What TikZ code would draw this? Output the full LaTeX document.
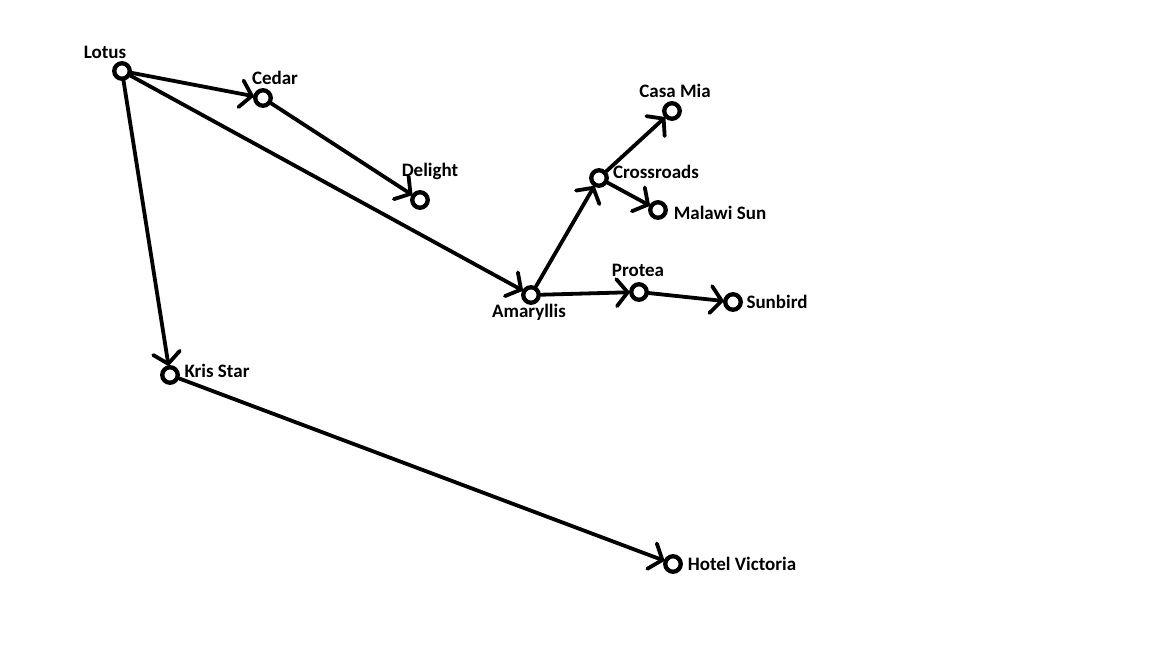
\documentclass[tikz,border=0pt]{standalone}
\usepackage{fontspec}
\setmainfont{Carlito}
\usetikzlibrary{arrows.meta}
\tikzset{
  vtx/.style={circle,draw=black,line width=3.8pt,minimum size=16pt,inner sep=0pt,fill=white},
  lbl/.style={font=\bfseries\fontsize{19}{22}\selectfont,inner sep=0pt,text=black},
  edge/.style={line width=3.8pt,-{Straight Barb[length=11pt,width=27pt,line cap=round]},line cap=round,shorten >=-1pt}
}
\begin{document}
\begin{tikzpicture}[x=1pt,y=-1pt]
\useasboundingbox[fill=white] (0,0) rectangle (1152,648);
% vertices
\node[vtx] (lotus) at (122,71) {};
\node[vtx] (cedar) at (263,98) {};
\node[vtx] (delight) at (420,200) {};
\node[vtx] (amaryllis) at (531,295) {};
\node[vtx] (crossroads) at (599,178) {};
\node[vtx] (casamia) at (672,111) {};
\node[vtx] (malawi) at (658,210) {};
\node[vtx] (protea) at (639,292) {};
\node[vtx] (sunbird) at (733,302) {};
\node[vtx] (kris) at (170,375) {};
\node[vtx] (hotel) at (673,564) {};
% edges
\draw[edge] (lotus) -- (cedar);
\draw[edge] (lotus) -- (amaryllis);
\draw[edge] (lotus) -- (kris);
\draw[edge] (cedar) -- (delight);
\draw[edge] (amaryllis) -- (crossroads);
\draw[edge] (crossroads) -- (casamia);
\draw[edge] (crossroads) -- (malawi);
\draw[edge] (amaryllis) -- (protea);
\draw[edge] (protea) -- (sunbird);
\draw[edge] (kris) -- (hotel);
% redraw vertices on top
\foreach \n in {lotus,cedar,delight,amaryllis,crossroads,casamia,malawi,protea,sunbird,kris,hotel}
  \draw[line width=3.8pt] (\n) circle (7.5pt);
% labels
\node[lbl] (tlotus) at (105,52) {Lotus};
\node[lbl] (tcedar) at (275,78) {Cedar};
\node[lbl] (tdelight) at (430,171) {Delight};
\node[lbl] (tamaryllis) at (529,312) {Amaryllis};
\node[lbl] (tcrossroads) at (656,172) {Crossroads};
\node[lbl] (tcasamia) at (675,91) {Casa Mia};
\node[lbl] (tmalawi) at (720,213) {Malawi Sun};
\node[lbl] (tprotea) at (638,270) {Protea};
\node[lbl] (tsunbird) at (777,302) {Sunbird};
\node[lbl] (tkris) at (217,371) {Kris Star};
\node[lbl] (thotel) at (742,564) {Hotel Victoria};
\end{tikzpicture}
\end{document}
